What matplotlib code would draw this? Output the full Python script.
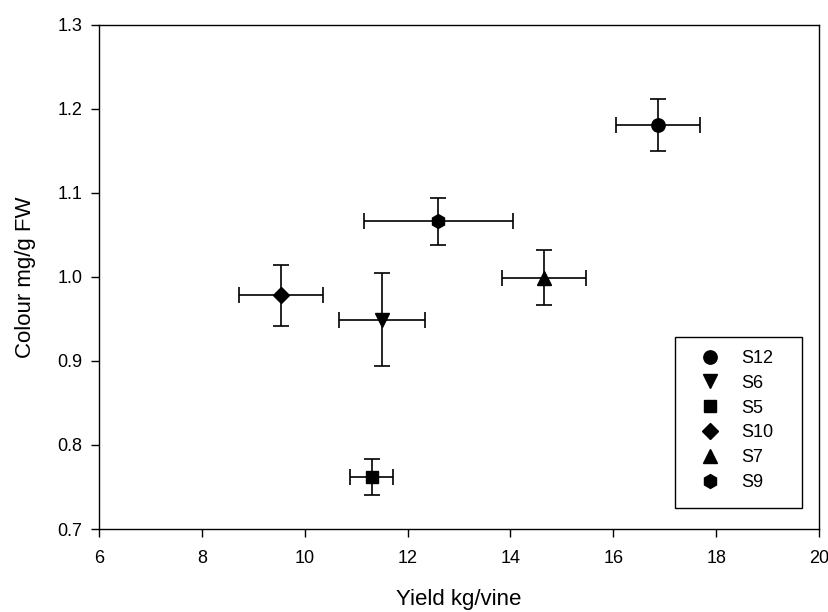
import matplotlib
matplotlib.use('Agg')
import matplotlib.pyplot as plt
from matplotlib.patches import Rectangle

plt.rcParams['font.family'] = ['Liberation Sans', 'DejaVu Sans']

# data
names = ['S12', 'S6', 'S5', 'S10', 'S7', 'S9']
markers = ['o', 'v', 's', 'D', '^', 'h']
yield_kg = [16.87, 11.50, 11.30, 9.54, 14.65, 12.60]
yield_err = [0.82, 0.83, 0.41, 0.82, 0.82, 1.45]
colour = [1.180, 0.949, 0.762, 0.978, 0.999, 1.066]
colour_err = [0.031, 0.055, 0.021, 0.036, 0.033, 0.028]

xticks = [6, 8, 10, 12, 14, 16, 18, 20]
yticks = [0.7, 0.8, 0.9, 1.0, 1.1, 1.2, 1.3]

sizes = {'o': 9.6, 'v': 10, '^': 10, 's': 8.6, 'D': 8, 'h': 10}

fig = plt.figure(figsize=(8.29, 6.12), dpi=100)
ax = fig.add_axes([99 / 829, 1 - 529 / 612, 720 / 829, 504.5 / 612])

for i in range(len(names)):
    ax.errorbar(yield_kg[i], colour[i], xerr=yield_err[i], yerr=colour_err[i],
                fmt='none', ecolor='black', elinewidth=1.2, capsize=6, capthick=1.2, zorder=2)
    ax.plot(yield_kg[i], colour[i], marker=markers[i], color='black',
            ms=sizes[markers[i]], linestyle='none', label=names[i], zorder=3)

ax.set_xlim(6, 20)
ax.set_ylim(0.7, 1.3)
ax.set_xticks(xticks)
ax.set_yticks(yticks)
ax.set_yticklabels([f'{v:.1f}' for v in yticks])
ax.tick_params(direction='out', length=6, width=1, labelsize=13)
ax.tick_params(axis='x', pad=9)
ax.tick_params(axis='y', pad=6)
for s in ax.spines.values():
    s.set_linewidth(1)

ax.set_xlabel('Yield kg/vine', fontsize=16, labelpad=16)
ax.set_ylabel('Colour mg/g FW', fontsize=16, labelpad=15)

# legend with a square frame drawn separately
leg = ax.legend(loc='upper left', bbox_to_anchor=(692 / 829, 1 - 350 / 612),
                bbox_transform=fig.transFigure, frameon=False, borderpad=0,
                borderaxespad=0, handlelength=2, handletextpad=0.7,
                labelspacing=0.43, fontsize=13)
fig.patches.append(Rectangle((675 / 829, 1 - 507.7 / 612), 126.7 / 829, 171 / 612,
                             transform=fig.transFigure, fill=False,
                             edgecolor='black', linewidth=1))

fig.savefig('out.png', dpi=100)
